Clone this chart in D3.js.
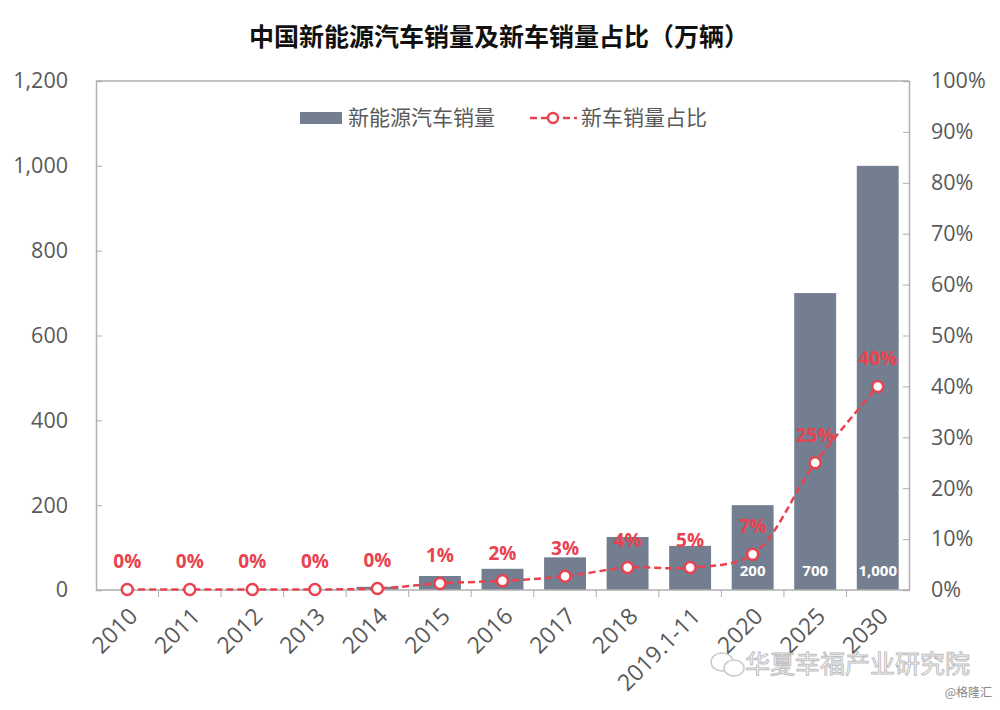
<!DOCTYPE html>
<html><head><meta charset="utf-8">
<script src="https://cdn.jsdelivr.net/npm/d3@7"></script>
<style>
body{margin:0;background:#fff;}
text{font-family:"Open Sans","Noto Sans","Noto Sans CJK SC",sans-serif;}
.cjk{font-family:"Noto Sans CJK SC",sans-serif;}
</style></head>
<body>
<svg id="c" width="1000" height="710"></svg>
<script>
const categories = ["2010","2011","2012","2013","2014","2015","2016","2017","2018","2019.1-11","2020","2025","2030"];
const sales = [0.7,0.8,1.3,1.8,7.5,33,50,77,125,104,200,700,1000];
const share = [0.1,0.1,0.1,0.1,0.3,1.3,1.8,2.7,4.4,4.4,7,25,40];
const shareLabels = ["0%","0%","0%","0%","0%","1%","2%","3%","4%","5%","7%","25%","40%"];
const barLabels = [null,null,null,null,null,null,null,null,null,null,"200","700","1,000"];
const leftTicks = [0,200,400,600,800,1000,1200];
const rightTicks = [0,10,20,30,40,50,60,70,80,90,100];
const title = "中国新能源汽车销量及新车销量占比（万辆）";
const legendNames = ["新能源汽车销量","新车销量占比"];

const svg = d3.select("#c");
const L=96, R=909, T=81, B=590;
const barColor="#737e91", red="#e8434f", axisCol="#b0b0b0", txt="#595959";

const x = d3.scaleBand().domain(categories).range([L,R]).paddingInner(0.33).paddingOuter(0.165);
const xs = d3.scaleBand().domain(categories).range([L,R]);
const y = d3.scaleLinear().domain([0,1200]).range([B,T]);
const y2 = d3.scaleLinear().domain([0,100]).range([B,T]);

// title
svg.append("text").attr("class","cjk").attr("x",499).attr("y",46).attr("text-anchor","middle")
  .attr("font-size",25).attr("font-weight","bold").attr("fill","#111").text(title);

// frame top
svg.append("line").attr("x1",L).attr("x2",R).attr("y1",T).attr("y2",T).attr("stroke",axisCol).attr("stroke-width",1.5);

// left axis
const gl = svg.append("g").attr("transform",`translate(${L},0)`)
  .call(d3.axisRight(y).tickValues(leftTicks).tickSize(6).tickFormat(d3.format(",")));
gl.select(".domain").attr("stroke",axisCol).attr("stroke-width",1.5);
gl.selectAll(".tick line").attr("stroke",axisCol);
gl.selectAll(".tick text").attr("x",-28).attr("text-anchor","end").attr("fill",txt).attr("font-size",21.5).attr("font-family","Open Sans");

// right axis
const gr = svg.append("g").attr("transform",`translate(${R},0)`)
  .call(d3.axisLeft(y2).tickValues(rightTicks).tickSize(6).tickFormat(d=>d+"%"));
gr.select(".domain").attr("stroke",axisCol).attr("stroke-width",1.5);
gr.selectAll(".tick line").attr("stroke",axisCol);
gr.selectAll(".tick text").attr("x",22).attr("text-anchor","start").attr("fill",txt).attr("font-size",21.5).attr("font-family","Open Sans");

// bars
svg.append("g").selectAll("rect").data(categories).join("rect")
  .attr("x",d=>x(d)).attr("width",x.bandwidth())
  .attr("y",(d,i)=>y(sales[i])).attr("height",(d,i)=>B-y(sales[i])).attr("fill",barColor);

// bar labels
svg.append("g").selectAll("text").data(categories.filter((d,i)=>barLabels[i])).join("text")
  .attr("x",d=>x(d)+x.bandwidth()/2).attr("y",B-14).attr("text-anchor","middle")
  .attr("fill","#fff").attr("font-weight","bold").attr("font-size",15)
  .text(d=>barLabels[categories.indexOf(d)]);

// bottom axis
const gb = svg.append("g").attr("transform",`translate(0,${B})`);
gb.append("line").attr("x1",L).attr("x2",R).attr("stroke",axisCol).attr("stroke-width",1.5);
gb.selectAll("line.t").data(categories.slice(1)).join("line").attr("class","t")
  .attr("x1",d=>xs(d)).attr("x2",d=>xs(d)).attr("y1",0).attr("y2",7).attr("stroke",axisCol);
gb.selectAll("text").data(categories).join("text")
  .attr("transform",d=>`translate(${xs(d)+xs.bandwidth()/2+6},${22}) rotate(-45)`)
  .attr("text-anchor","end").attr("dy","0.35em").attr("fill",txt).attr("font-size",23).text(d=>d);

// line
const pts = categories.map((d,i)=>[xs(d)+xs.bandwidth()/2, y2(share[i])]);
svg.append("path").attr("d",d3.line().curve(d3.curveCatmullRom.alpha(0.5))(pts))
  .attr("fill","none").attr("stroke",red).attr("stroke-width",2.5).attr("stroke-dasharray","7,4");
svg.append("g").selectAll("circle").data(pts).join("circle")
  .attr("cx",d=>d[0]).attr("cy",d=>d[1]).attr("r",5.5)
  .attr("fill","#fff").attr("stroke",red).attr("stroke-width",2.5);
svg.append("g").selectAll("text").data(pts).join("text")
  .attr("x",d=>d[0]).attr("y",d=>d[1]-21).attr("text-anchor","middle")
  .attr("fill",red).attr("font-weight","bold").attr("font-size",19)
  .text((d,i)=>shareLabels[i]);

// legend
const lg = svg.append("g");
lg.append("rect").attr("x",300).attr("y",112).attr("width",42).attr("height",12).attr("fill",barColor);
lg.append("text").attr("class","cjk").attr("x",348).attr("y",118).attr("dy","0.35em").attr("font-size",21).attr("fill",txt).text(legendNames[0]);
lg.append("line").attr("x1",530).attr("x2",577).attr("y1",118).attr("y2",118).attr("stroke",red).attr("stroke-width",2.5).attr("stroke-dasharray","7,4");
lg.append("circle").attr("cx",553).attr("cy",118).attr("r",5).attr("fill","#fff").attr("stroke",red).attr("stroke-width",2.5);
lg.append("text").attr("class","cjk").attr("x",581).attr("y",118).attr("dy","0.35em").attr("font-size",21).attr("fill",txt).text(legendNames[1]);

// watermark
const wm = svg.append("g").attr("opacity",0.75);
wm.append("ellipse").attr("cx",722).attr("cy",662).attr("rx",11).attr("ry",9).attr("fill","none").attr("stroke","#bbb").attr("stroke-width",1.5);
wm.append("ellipse").attr("cx",734).attr("cy",668).attr("rx",10).attr("ry",8).attr("fill","#fff").attr("stroke","#bbb").attr("stroke-width",1.5);
wm.append("text").attr("class","cjk").attr("x",745).attr("y",673).attr("font-size",25)
  .attr("fill","#fff").attr("stroke","#aaa").attr("stroke-width",1).text("华夏幸福产业研究院");
svg.append("text").attr("class","cjk").attr("x",992).attr("y",697).attr("text-anchor","end").attr("font-size",12).attr("fill","#888").text("@格隆汇");
</script>
</body></html>
